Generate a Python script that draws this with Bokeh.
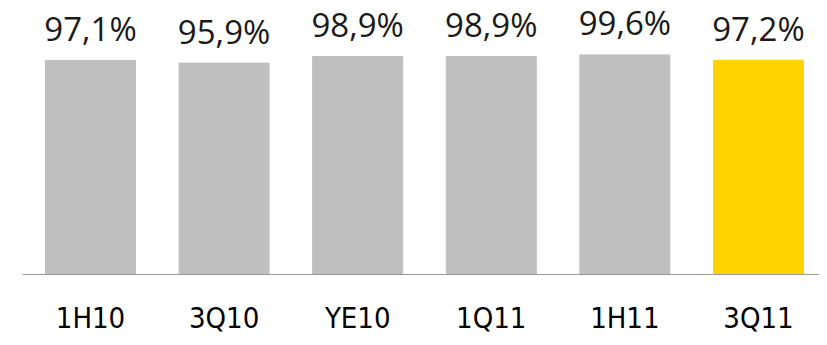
from bokeh.plotting import figure
from bokeh.models import Range1d, ColumnDataSource, Span
from bokeh.core.properties import value
from bokeh.embed import file_html
from bokeh.resources import INLINE

categories = ["1H10", "3Q10", "YE10", "1Q11", "1H11", "3Q11"]
values = [97.1, 95.9, 98.9, 98.9, 99.6, 97.2]
colors = ["#bfbfbf", "#bfbfbf", "#bfbfbf", "#bfbfbf", "#bfbfbf", "#ffd200"]
labels = [f"{v:.1f}%".replace(".", ",") for v in values]

xs = list(range(len(categories)))
src = ColumnDataSource(dict(x=xs, top=values, color=colors, label=labels,
                            cat=categories, zero=[0] * len(xs)))

p = figure(width=819, height=337, output_backend="svg", toolbar_location=None,
           x_range=Range1d(-0.509, 5.457), y_range=Range1d(-28.58, 124.3),
           min_border_left=22, min_border_right=0, min_border_top=0, min_border_bottom=0)
p.xaxis.visible = False
p.yaxis.visible = False
p.grid.visible = False
p.outline_line_color = None

p.vbar(x="x", top="top", bottom=0, width=0.674, color="color", source=src)
p.add_layout(Span(location=0, dimension="width", line_color="#999999", line_width=1))

p.text(x="x", y="top", text="label", source=src, y_offset=-32,
       text_align="center", text_baseline="alphabetic",
       text_font=value("Open Sans"), text_font_size="33px", text_color="#1a1a1a")
p.text(x="x", y="zero", text="cat", source=src, y_offset=44,
       text_align="center", text_baseline="alphabetic",
       text_font=value("DejaVu Sans Condensed, DejaVu Sans"), text_font_size="29px",
       text_color="#000000")

open("out.html", "w").write(file_html(p, INLINE))
